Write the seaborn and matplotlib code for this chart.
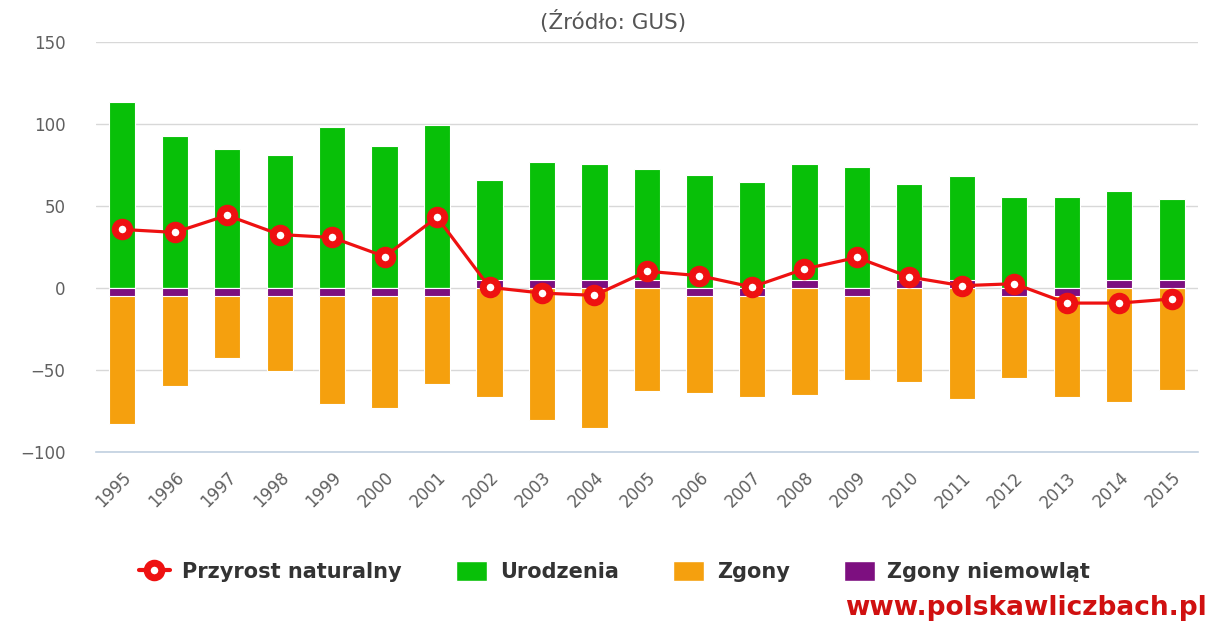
import numpy as np
import pandas as pd
import matplotlib
matplotlib.use('Agg')
import matplotlib.pyplot as plt
import seaborn as sns
from matplotlib.lines import Line2D
from matplotlib.patches import Patch

# Data
years = [str(y) for y in range(1995, 2016)]
urodzenia = [113.5, 92.5, 84.7, 81.2, 98.0, 86.7, 99.4, 60.7, 71.9, 70.7, 67.4,
             69.0, 64.7, 70.7, 73.5, 58.5, 63.0, 55.5, 55.5, 54.0, 49.5]
zgony = [-78.1, -54.6, -37.9, -45.6, -65.7, -68.1, -53.4, -66.4, -80.8, -85.1, -63.1,
         -58.9, -61.4, -65.1, -51.2, -57.4, -67.4, -50.1, -61.4, -69.6, -61.9]
zgony_niemowlat = [-5, -5, -5, -5, -5, -5, -5, 5, 5, 5, 5,
                   -5, -5, 5, -5, 5, 5, -5, -5, 5, 5]
przyrost = [35.7, 33.9, 44.3, 32.6, 30.8, 19.2, 43.1, 0.4, -3.1, -4.5, 10.2,
            7.5, 0.6, 11.6, 18.6, 6.7, 1.4, 2.6, -9.2, -9.2, -6.7]

df = pd.DataFrame({'rok': years, 'urodzenia': urodzenia, 'zgony': zgony,
                   'niem': zgony_niemowlat, 'przyrost': przyrost})
# stacked totals (purple sits next to zero, green / orange stacked on it)
df['green_top'] = df['urodzenia'] + df['niem'].clip(lower=0)
df['orange_bottom'] = df['zgony'] + df['niem'].clip(upper=0)
df['idx'] = np.arange(len(df))

GREEN = '#08c008'
ORANGE = '#f5a00e'
PURPLE = '#7d0f80'
RED = '#ee1111'
GRAY = '#606060'

sns.set_style('white')
plt.rcParams['font.family'] = ['DejaVu Sans']

fig = plt.figure(figsize=(12.12, 6.23), dpi=100)
ax = fig.add_axes([0.0792, 0.2745, 0.9092, 0.6581])

bw = 0.5
sns.barplot(data=df, x='rok', y='green_top', color=GREEN, saturation=1, width=bw,
            edgecolor='white', linewidth=0.8, ax=ax, zorder=2)
sns.barplot(data=df, x='rok', y='orange_bottom', color=ORANGE, saturation=1, width=bw,
            edgecolor='white', linewidth=0.8, ax=ax, zorder=2)
sns.barplot(data=df, x='rok', y='niem', color=PURPLE, saturation=1, width=bw,
            edgecolor='white', linewidth=0.8, ax=ax, zorder=3)

sns.lineplot(data=df, x='idx', y='przyrost', color=RED, linewidth=2.3, marker='o',
             markersize=10.5, markerfacecolor='white', markeredgecolor=RED,
             markeredgewidth=5, ax=ax, zorder=5)

ax.set_xlim(-0.5, len(years) - 0.5)
ax.set_ylim(-100, 150)
ax.set_yticks([-100, -50, 0, 50, 100, 150])
ax.yaxis.grid(True, color='#d8d8d8', linewidth=1)
ax.set_axisbelow(True)
ax.set_xlabel('')
ax.set_ylabel('')

for s in ['top', 'right', 'left']:
    ax.spines[s].set_visible(False)
ax.spines['bottom'].set_color('#c0d0e0')
ax.spines['bottom'].set_linewidth(1.2)

ax.set_xticks(np.arange(len(years)))
ax.set_xticklabels(years, rotation=45, ha='right', rotation_mode='anchor',
                   color=GRAY, fontsize=12)
ax.set_xticks(np.arange(len(years) + 1) - 0.5, minor=True)
ax.tick_params(axis='x', which='major', length=0, pad=12)
ax.tick_params(axis='x', which='minor', length=8, width=1.2, color='#c0d0e0')
ax.tick_params(axis='y', length=0, pad=22, labelcolor=GRAY, labelsize=12)

fig.text(0.506, 0.965, '(Źródło: GUS)', ha='center', va='center',
         color='#555555', fontsize=15.5)

handles = [
    Line2D([0], [0], color=RED, linewidth=3, marker='o', markersize=10.5,
           markerfacecolor='white', markeredgecolor=RED, markeredgewidth=5),
    Patch(facecolor=GREEN, edgecolor='white'),
    Patch(facecolor=ORANGE, edgecolor='white'),
    Patch(facecolor=PURPLE, edgecolor='white'),
]
labels = ['Przyrost naturalny', 'Urodzenia', 'Zgony', 'Zgony niemowląt']
leg = fig.legend(handles, labels, loc='center', bbox_to_anchor=(0.507, 0.082),
                 ncol=4, frameon=False, handlelength=1.5, handleheight=1.1,
                 handletextpad=0.6, columnspacing=2.6,
                 prop={'weight': 'bold', 'size': 15})
for t in leg.get_texts():
    t.set_color('#333333')

fig.text(0.996, 0.024, 'www.polskawliczbach.pl', ha='right', va='center',
         color='#d01010', fontsize=19, fontweight='bold')

fig.savefig('out.png', dpi=100)
